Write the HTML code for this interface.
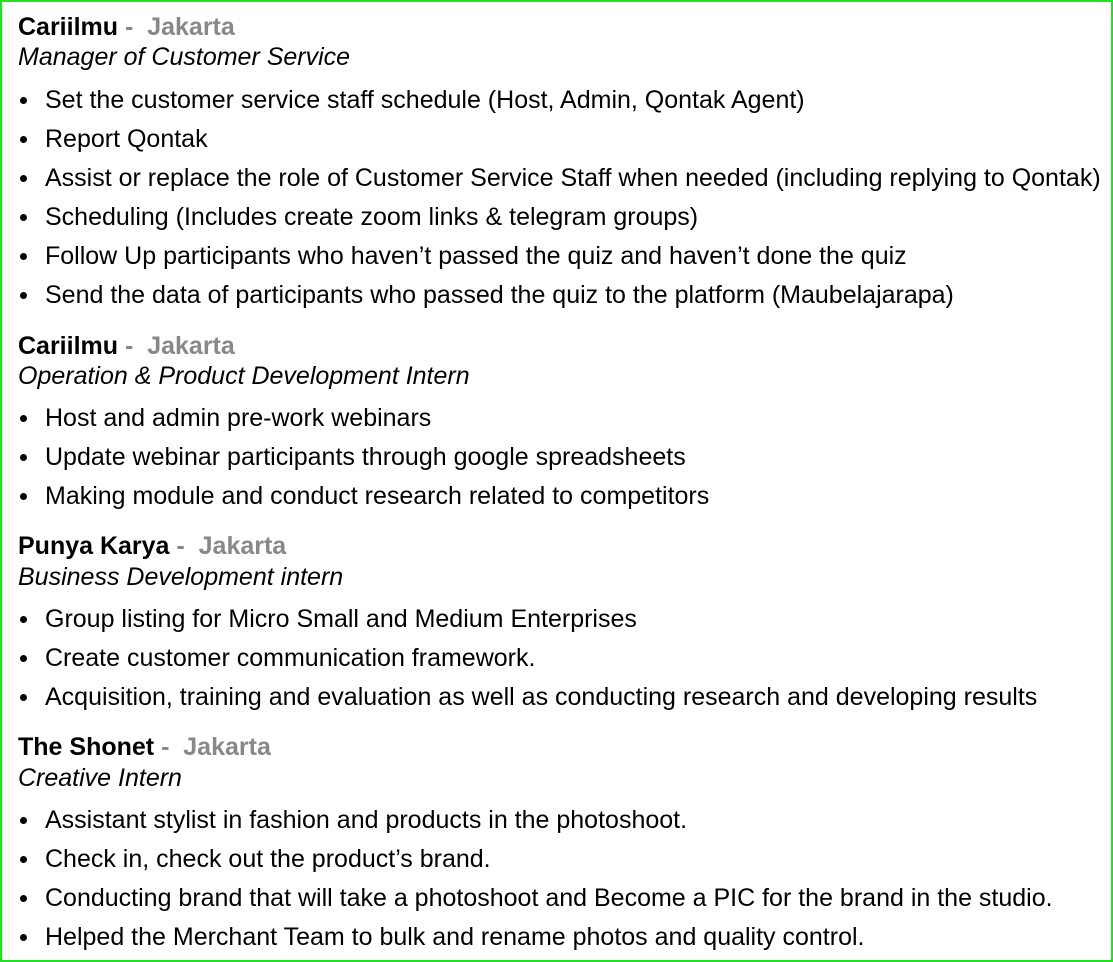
<!DOCTYPE html>
<html><head><style>
body{margin:0;width:1113px;height:962px;position:relative;background:#fff;font-family:"Liberation Sans",Arial,sans-serif;font-size:25px;color:#000;overflow:hidden}
.frame{position:absolute;left:0;top:0;width:1109px;height:958px;border:2px solid #22e022}
.l{position:absolute;left:18px;line-height:28px;white-space:nowrap}
.h b{font-weight:bold}
.h span{color:#888;font-weight:bold}
.i{font-style:italic}
.b{left:45px}
.b:before{content:"";position:absolute;left:-25px;top:11px;width:7px;height:7px;border-radius:50%;background:#000}
</style></head><body>
<div class="frame"></div>
<div class="l h" style="top:13px"><b>Cariilmu</b> <span>-&nbsp; Jakarta</span></div>
<div class="l i" style="top:43px">Manager of Customer Service</div>
<div class="l b" style="top:86px">Set the customer service staff schedule (Host, Admin, Qontak Agent)</div>
<div class="l b" style="top:125px">Report Qontak</div>
<div class="l b" style="top:164px">Assist or replace the role of Customer Service Staff when needed (including replying to Qontak)</div>
<div class="l b" style="top:203px">Scheduling (Includes create zoom links &amp; telegram groups)</div>
<div class="l b" style="top:242px">Follow Up participants who haven’t passed the quiz and haven’t done the quiz</div>
<div class="l b" style="top:281px">Send the data of participants who passed the quiz to the platform (Maubelajarapa)</div>
<div class="l h" style="top:332px"><b>Cariilmu</b> <span>-&nbsp; Jakarta</span></div>
<div class="l i" style="top:362px">Operation &amp; Product Development Intern</div>
<div class="l b" style="top:404px">Host and admin pre-work webinars</div>
<div class="l b" style="top:443px">Update webinar participants through google spreadsheets</div>
<div class="l b" style="top:482px">Making module and conduct research related to competitors</div>
<div class="l h" style="top:532px"><b>Punya Karya</b> <span>-&nbsp; Jakarta</span></div>
<div class="l i" style="top:563px">Business Development intern</div>
<div class="l b" style="top:605px">Group listing for Micro Small and Medium Enterprises</div>
<div class="l b" style="top:644px">Create customer communication framework.</div>
<div class="l b" style="top:683px">Acquisition, training and evaluation as well as conducting research and developing results</div>
<div class="l h" style="top:733px"><b>The Shonet</b> <span>-&nbsp; Jakarta</span></div>
<div class="l i" style="top:764px">Creative Intern</div>
<div class="l b" style="top:806px">Assistant stylist in fashion and products in the photoshoot.</div>
<div class="l b" style="top:845px">Check in, check out the product’s brand.</div>
<div class="l b" style="top:884px">Conducting brand that will take a photoshoot and Become a PIC for the brand in the studio.</div>
<div class="l b" style="top:923px">Helped the Merchant Team to bulk and rename photos and quality control.</div>
</body></html>
